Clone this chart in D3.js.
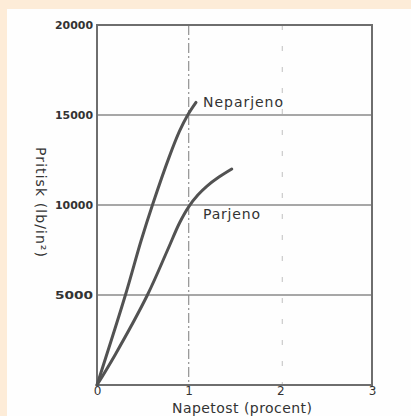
<!DOCTYPE html>
<html>
<head>
<meta charset="utf-8">
<script src="https://cdn.jsdelivr.net/npm/d3@7"></script>
<style>
  html, body { margin: 0; padding: 0; background: #fdecd8; }
  #chart { width: 411px; height: 416px; }
  text { font-family: "DejaVu Sans", sans-serif; fill: #333; }
</style>
</head>
<body>
<div id="chart"></div>
<script>
// tick values on the axes
const xTicks = [0, 1, 2, 3];
const yTicks = [5000, 10000, 15000, 20000];

// Neparjeno curve
const neparjenoX = [0, 0.31, 0.48, 0.605, 0.79, 0.90, 0.99, 1.08];
const neparjenoY = [0, 5000, 8000, 10000, 12700, 14100, 15000, 15700];

// Parjeno curve
const parjenoX = [0, 0.20, 0.55, 0.77, 0.90, 1.00, 1.10, 1.20, 1.33, 1.47];
const parjenoY = [0, 1700, 5000, 7500, 9000, 9900, 10550, 11050, 11550, 12000];

const xTitle = "Napetost (procent)";
const yTitle = "Pritisk (lb/in²)";

document.addEventListener('DOMContentLoaded', function(){
  drawChart();
});

function drawChart(){
  const svg = d3.select("#chart").append("svg")
    .attr("width", 411)
    .attr("height", 416);

  // white page area inside the peach frame
  svg.append("rect")
    .attr("x", 7).attr("y", 9)
    .attr("width", 404).attr("height", 407)
    .attr("fill", "#fefefe");

  const x = d3.scaleLinear().domain([0, 3]).range([97, 372]);
  const y = d3.scaleLinear().domain([0, 20000]).range([385, 25]);

  // vertical gridlines (dashed)
  svg.selectAll(".vgrid")
    .data([1, 2])
    .enter().append("line")
    .attr("class", "vgrid")
    .attr("x1", d => x(d) + (d - 1) * 2).attr("x2", d => x(d) + (d - 1) * 2)
    .attr("y1", y(20000)).attr("y2", y(0))
    .attr("stroke", (d) => d == 1 ? "#999" : "#cfcfcf")
    .attr("stroke-width", 1.3)
    .attr("stroke-dasharray", d => d == 1 ? "10,3,2,3" : "5,16");

  // horizontal gridlines
  svg.selectAll(".hgrid")
    .data([5000, 10000, 15000])
    .enter().append("line")
    .attr("class", "hgrid")
    .attr("x1", x(0)).attr("x2", x(3))
    .attr("y1", d => y(d)).attr("y2", d => y(d))
    .attr("stroke", "#8a8a8a")
    .attr("stroke-width", 1.4);

  // frame
  svg.append("rect")
    .attr("x", x(0)).attr("y", y(20000))
    .attr("width", x(3) - x(0)).attr("height", y(0) - y(20000))
    .attr("fill", "none")
    .attr("stroke", "#6e6e6e")
    .attr("stroke-width", 2);

  // axes, tick text only
  const xAxis = svg.append("g")
    .attr("transform", "translate(0," + y(0) + ")")
    .call(d3.axisBottom(x).tickValues(xTicks).tickSize(0).tickPadding(1).tickFormat(d3.format("d")));
  const yAxis = svg.append("g")
    .attr("transform", "translate(" + x(0) + ",0)")
    .call(d3.axisLeft(y).tickValues(yTicks).tickSize(0).tickPadding(4).tickFormat(d3.format("d")));
  [xAxis, yAxis].forEach(function(a){
    a.select(".domain").remove();
    a.selectAll("text")
      .style("font-family", "'DejaVu Sans', sans-serif")
      .attr("fill", "#555");
  });
  xAxis.selectAll("text").style("font-size", "12px");
  yAxis.selectAll("text").style("font-size", "10px").style("font-weight", "bold")
    .attr("textLength", 38).attr("lengthAdjust", "spacingAndGlyphs");

  const line = d3.line()
    .x(d => x(d[0]))
    .y(d => y(d[1]))
    .curve(d3.curveCatmullRom.alpha(0.5));

  const series = [
    { name: "Neparjeno", pts: d3.zip(neparjenoX, neparjenoY) },
    { name: "Parjeno", pts: d3.zip(parjenoX, parjenoY) }
  ];

  svg.selectAll(".curve")
    .data(series)
    .enter().append("path")
    .attr("class", "curve")
    .attr("d", d => line(d.pts))
    .attr("fill", "none")
    .attr("stroke", "#525252")
    .attr("stroke-width", 3)
    .attr("stroke-linecap", "round");

  // curve labels
  svg.append("text")
    .attr("x", 203).attr("y", y(15650))
    .attr("dominant-baseline", "middle")
    .style("font-size", "14px")
    .attr("textLength", 80)
    .text("Neparjeno");
  svg.append("text")
    .attr("x", 203).attr("y", 215)
    .attr("dominant-baseline", "middle")
    .style("font-size", "14px")
    .attr("textLength", 57)
    .text("Parjeno");

  // axis titles
  svg.append("text")
    .attr("x", 242).attr("y", 409)
    .attr("text-anchor", "middle")
    .attr("dominant-baseline", "middle")
    .style("font-size", "14px")
    .attr("textLength", 140)
    .text(xTitle);
  svg.append("text")
    .attr("transform", "translate(40,202) rotate(90)")
    .attr("text-anchor", "middle")
    .attr("dominant-baseline", "middle")
    .style("font-size", "14px")
    .attr("textLength", 110)
    .text(yTitle);
}
</script>
</body>
</html>
